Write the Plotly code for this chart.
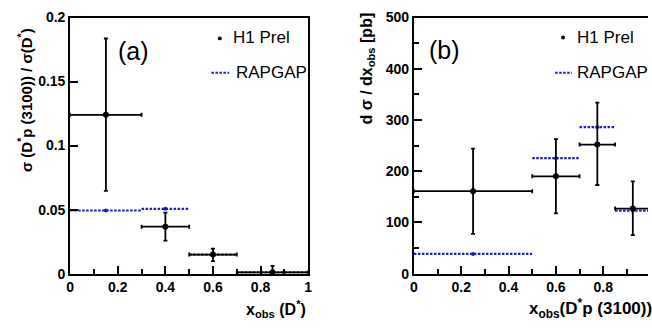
import plotly.graph_objects as go

# ---------------- data ----------------
# Panel (a): sigma(D*p(3100)) / sigma(D*) vs x_obs(D*)
a_x = [0.15, 0.40, 0.60, 0.85]
a_xlo = [0.0, 0.3, 0.5, 0.7]
a_xhi = [0.3, 0.5, 0.7, 1.0]
a_y = [0.124, 0.0367, 0.0149, 0.001]
a_ylo = [0.0647, 0.0258, 0.0097, 0.0]
a_yhi = [0.1836, 0.0476, 0.0196, 0.006]
a_rap_edges = [0.0, 0.3, 0.5, 0.7, 1.0]
a_rap = [0.0493, 0.0506, 0.0149, 0.001]

# Panel (b): d sigma / d x_obs [pb] vs x_obs(D*p(3100))
b_x = [0.25, 0.60, 0.775, 0.925]
b_xlo = [0.0, 0.5, 0.7, 0.85]
b_xhi = [0.5, 0.7, 0.85, 1.0]
b_y = [161, 190, 252, 127]
b_ylo = [77.5, 117.7, 173, 75]
b_yhi = [244, 262.6, 334, 180]
b_rap_edges = [0.0, 0.5, 0.7, 0.85, 1.0]
b_rap = [38.5, 225.5, 286, 123]

a_xticks = [0, 0.2, 0.4, 0.6, 0.8, 1.0]
a_xticktext = ["0", "0.2", "0.4", "0.6", "0.8", "1"]
a_yticks = [0, 0.05, 0.1, 0.15, 0.2]
a_yticktext = ["0", "0.05", "0.1", "0.15", "0.2"]
b_xticks = [0, 0.2, 0.4, 0.6, 0.8, 1.0]
b_xticktext = ["0", "0.2", "0.4", "0.6", "0.8", "1"]
b_yticks = [0, 100, 200, 300, 400, 500]
b_yticktext = ["0", "100", "200", "300", "400", "500"]

W, H = 652, 334
FONT = "Liberation Sans, Arial, Helvetica, sans-serif"
BLUE = "#1c1cc8"
DOTS = "2.5px,1.5px"


def px(x):
    return x / W


def py(y):
    return 1 - y / H


def steps(edges, vals):
    xs, ys = [], []
    for i, v in enumerate(vals):
        xs += [edges[i], edges[i + 1], None]
        ys += [v, v, None]
    return xs, ys


fig = go.Figure()

for (xs, xlo, xhi, ys, ylo, yhi, edges, rap, xa, ya) in [
    (a_x, a_xlo, a_xhi, a_y, a_ylo, a_yhi, a_rap_edges, a_rap, "x", "y"),
    (b_x, b_xlo, b_xhi, b_y, b_ylo, b_yhi, b_rap_edges, b_rap, "x2", "y2"),
]:
    sx, sy = steps(edges, rap)
    fig.add_trace(go.Scatter(
        x=sx, y=sy, mode="lines", xaxis=xa, yaxis=ya,
        line=dict(color=BLUE, width=2.2, dash=DOTS), showlegend=False,
        cliponaxis=False))
    centers = [(edges[i] + edges[i + 1]) / 2 for i in range(len(rap))]
    fig.add_trace(go.Scatter(
        x=centers, y=rap, mode="markers", xaxis=xa, yaxis=ya,
        marker=dict(color=BLUE, size=4), showlegend=False))
    fig.add_trace(go.Scatter(
        x=xs, y=ys, mode="markers", xaxis=xa, yaxis=ya,
        marker=dict(color="black", size=6),
        error_x=dict(type="data", symmetric=False,
                     array=[h - x for h, x in zip(xhi, xs)],
                     arrayminus=[x - l for l, x in zip(xlo, xs)],
                     color="black", thickness=1.8, width=2),
        error_y=dict(type="data", symmetric=False,
                     array=[h - y for h, y in zip(yhi, ys)],
                     arrayminus=[y - l for l, y in zip(ylo, ys)],
                     color="black", thickness=1.8, width=2),
        showlegend=False, cliponaxis=False))

tickfont = dict(family=FONT, size=14, color="black", weight="bold")
common_x = dict(showgrid=False, zeroline=False, showline=True, linecolor="black",
                linewidth=2, ticks="inside", ticklen=8, tickwidth=2,
                tickcolor="black", tickfont=tickfont, mirror=True)
common_y = dict(showgrid=False, zeroline=False, showline=True, linecolor="black",
                linewidth=2, ticks="inside", ticklen=8, tickwidth=2,
                tickcolor="black", tickfont=tickfont)

bx_end = (W - 415) / 239.6

fig.update_layout(
    width=W, height=H, margin=dict(l=0, r=0, t=0, b=0),
    paper_bgcolor="white", plot_bgcolor="white",
    xaxis=dict(domain=[px(67), px(308)], range=[0, 1], anchor="y",
               tickvals=a_xticks, ticktext=a_xticktext,
               minor=dict(dtick=0.1, tick0=0, ticks="inside", ticklen=5,
                          tickwidth=2, tickcolor="black"),
               **common_x),
    yaxis=dict(domain=[py(279), py(10)], range=[0, 0.2], anchor="x",
               tickvals=a_yticks, ticktext=a_yticktext, mirror=True,
               **common_y),
    xaxis2=dict(domain=[px(415), 1.0], range=[0, bx_end], anchor="y2",
                tickvals=b_xticks, ticktext=b_xticktext,
                minor=dict(dtick=0.1, tick0=0, ticks="inside", ticklen=5,
                           tickwidth=2, tickcolor="black"),
                **common_x),
    yaxis2=dict(domain=[py(279), py(10)], range=[0, 500], anchor="x2",
                tickvals=b_yticks, ticktext=b_yticktext, mirror=False,
                minor=dict(dtick=50, tick0=0, ticks="inside", ticklen=5,
                           tickwidth=2, tickcolor="black"),
                **common_y),
)

ann = []
lab = dict(family=FONT, size=17, color="black")
# panel labels
ann.append(dict(text="(a)", x=px(131), y=py(45), font=dict(family=FONT, size=25, color="black")))
ann.append(dict(text="(b)", x=px(446), y=py(44), font=dict(family=FONT, size=25, color="black")))
# legend texts
ann.append(dict(text="H1 Prel", x=px(230), y=py(31), xanchor="left", font=lab))
ann.append(dict(text="RAPGAP", x=px(233), y=py(68), xanchor="left", font=lab))
ann.append(dict(text="H1 Prel", x=px(578), y=py(31), xanchor="left", font=lab))
ann.append(dict(text="RAPGAP", x=px(578), y=py(68), xanchor="left", font=lab))
# axis titles
tf = dict(family=FONT, size=16, color="black", weight="bold")
ann.append(dict(text="x<sub>obs</sub> (D<sup>*</sup>)", x=px(308), y=py(316),
                xanchor="right", font=tf))
ann.append(dict(text="x<sub>obs</sub>(D<sup>*</sup>p (3100))", x=px(658), y=py(316),
                xanchor="right", font=dict(family=FONT, size=17, color="black", weight="bold")))
ann.append(dict(text="σ (D<sup>*</sup>p (3100)) / σ(D<sup>*</sup>)", x=px(21), y=py(97),
                textangle=-90, font=dict(family=FONT, size=15, color="black", weight="bold")))
ann.append(dict(text="d σ / dx<sub>obs</sub> [pb]", x=px(368), y=py(63),
                textangle=-90, font=dict(family=FONT, size=16, color="black", weight="bold")))
for a in ann:
    a.update(xref="paper", yref="paper", showarrow=False)
    a.setdefault("xanchor", "center")
    a.setdefault("yanchor", "middle")
fig.update_layout(annotations=ann)

# legend symbols
shapes = [
    dict(type="circle", xref="paper", yref="paper", x0=px(216.5), x1=px(220.5),
         y0=py(34), y1=py(30), fillcolor="black", line=dict(color="black", width=0)),
    dict(type="circle", xref="paper", yref="paper", x0=px(564), x1=px(568),
         y0=py(33), y1=py(29), fillcolor="black", line=dict(color="black", width=0)),
    dict(type="line", xref="paper", yref="paper", x0=px(210), x1=px(228),
         y0=py(68), y1=py(68), line=dict(color=BLUE, width=2.2, dash=DOTS)),
    dict(type="line", xref="paper", yref="paper", x0=px(558), x1=px(575),
         y0=py(68), y1=py(68), line=dict(color=BLUE, width=2.2, dash=DOTS)),
]
fig.update_layout(shapes=shapes)

fig.write_html("out.html", config={"displayModeBar": False},
               post_script="document.body.style.margin='0px';document.body.style.overflow='hidden';")
